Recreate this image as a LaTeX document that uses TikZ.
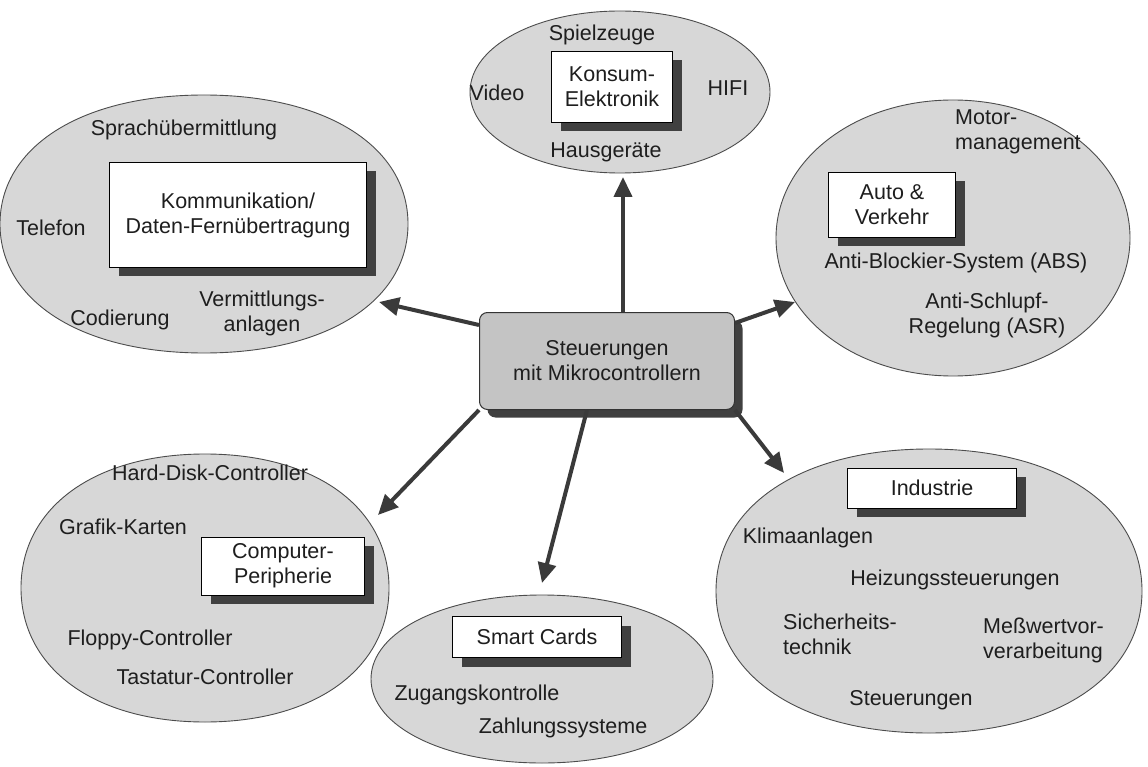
\documentclass[tikz,border=0pt]{standalone}
\usepackage{fontspec}
\setmainfont{Liberation Sans}
\usetikzlibrary{arrows.meta,shapes.geometric,shadows,calc}
\definecolor{ellfill}{HTML}{D7D7D7}
\definecolor{cenfill}{HTML}{C4C4C4}
\definecolor{shadowc}{HTML}{404040}
\definecolor{arrc}{HTML}{3A3A3A}
\definecolor{txt}{HTML}{1E1E1E}
\newcommand\lblfont{\fontsize{21.5}{25}\selectfont}
% name, cx, cy, a, b, k  (k = bezier factor; 0.5523 = true ellipse)
\newcommand\boxyell[6]{%
  \begin{scope}[shift={(#2,#3)}]
  \path[ellp] (#4,0) .. controls (#4,{#6*#5}) and ({#6*#4},#5) .. (0,#5)
    .. controls ({-#6*#4},#5) and (-#4,{#6*#5}) .. (-#4,0)
    .. controls (-#4,{-#6*#5}) and ({-#6*#4},-#5) .. (0,-#5)
    .. controls ({#6*#4},-#5) and (#4,{-#6*#5}) .. (#4,0) -- cycle;
  \coordinate (#1) at (0,0);
  \end{scope}}
\begin{document}
\begin{tikzpicture}[x=1pt,y=-1pt,
  ellp/.style={draw=black!70,line width=0.9pt,fill=ellfill},
  cbox/.style={rectangle,draw=black,line width=1pt,fill=white,inner sep=0pt,align=center,font=\lblfont,text=txt,
    drop shadow={shadow xshift=9pt,shadow yshift=-9pt,fill=shadowc,opacity=1}},
  lbl/.style={inner sep=0pt,align=center,font=\lblfont,text=txt},
  lbll/.style={inner sep=0pt,align=left,font=\lblfont,text=txt,anchor=west},
  arr/.style={draw=arrc,line width=4pt,-{Triangle[length=20pt,width=18pt]}}]
\useasboundingbox[fill=white] (0,0) rectangle (1148,767);

% areas
\boxyell{kons}{620}{92}{150}{81}{0.56}
\boxyell{komm}{204}{224}{204}{129}{0.6}
\boxyell{auto}{953}{238}{177}{138}{0.56}
\boxyell{comp}{205}{588}{184}{134}{0.6}
\boxyell{smart}{542}{679}{171}{84}{0.57}
\boxyell{ind}{929}{591}{213}{142}{0.6}

% arrow tips
\coordinate (konstip) at (623,177);
\coordinate (kommtip) at (379,302);
\coordinate (autotip) at (795,302);
\coordinate (indtip) at (784,473);
\coordinate (smarttip) at (542,583);
\coordinate (comptip) at (378,515);

% central box
\node[rectangle,rounded corners=8pt,draw=black!80,line width=1pt,fill=cenfill,
  minimum width=255pt,minimum height=97pt,inner sep=0pt,align=center,font=\lblfont,text=txt,
  drop shadow={shadow xshift=8pt,shadow yshift=-8pt,fill=shadowc,opacity=1}]
  (cen) at (607,361) {Steuerungen\\mit Mikrocontrollern};

% arrows
\draw[arr] ([xshift=16pt]cen.north) -- (konstip);
\draw[arr] ([yshift=36pt]cen.west) -- (kommtip);
\draw[arr] ([yshift=38pt]cen.east) -- (autotip);
\draw[arr] (cen.south east) -- (indtip);
\draw[arr] ([xshift=-20pt]cen.south) -- (smarttip);
\draw[arr] (cen.south west) -- (comptip);

% Konsum-Elektronik
\node[cbox,minimum width=121pt,minimum height=71pt] (kbox) at (612,87) {Konsum-\\Elektronik};
\node[lbl] (spiel) at (602,35) {Spielzeuge};
\node[lbl] (video) at (497,93) {Video};
\node[lbl] (hifi) at (728,88) {HIFI};
\node[lbl] (haus) at (606,152) {Hausgeräte};

% Kommunikation
\node[cbox,minimum width=257pt,minimum height=105pt] (kombox) at (238,215) {Kommunikation/\\Daten-Fernübertragung};
\node[lbl] (sprach) at (184,130) {Sprachübermittlung};
\node[lbl] (tel) at (51,228) {Telefon};
\node[lbl] (cod) at (120,320) {Codierung};
\node[lbl] (verm) at (262,313) {Vermittlungs-\\anlagen};

% Auto
\node[cbox,minimum width=127pt,minimum height=65pt] (abox) at (892,205) {Auto \&\\Verkehr};
\node[lbll] (motor) at (955,132) {Motor-\\management};
\node[lbl] (abs) at (956,263) {Anti-Blockier-System (ABS)};
\node[lbl] (asr) at (987,315) {Anti-Schlupf-\\Regelung (ASR)};

% Computer
\node[cbox,minimum width=163pt,minimum height=58pt] (cbx) at (283,566) {Computer-\\Peripherie};
\node[lbl] (hdd) at (210,473) {Hard-Disk-Controller};
\node[lbl] (graf) at (123,527) {Grafik-Karten};
\node[lbl] (flop) at (150,640) {Floppy-Controller};
\node[lbl] (tast) at (205,677) {Tastatur-Controller};

% Smart Cards
\node[cbox,minimum width=169pt,minimum height=41pt] (sbox) at (537,637) {Smart Cards};
\node[lbl] (zug) at (477,695) {Zugangskontrolle};
\node[lbl] (zahl) at (563,728) {Zahlungssysteme};

% Industrie
\node[cbox,minimum width=169pt,minimum height=40pt] (ibox) at (932,488) {Industrie};
\node[lbl] (klima) at (808,538) {Klimaanlagen};
\node[lbl] (heiz) at (955,580) {Heizungssteuerungen};
\node[lbll] (sich) at (783,634) {Sicherheits-\\technik};
\node[lbll] (mess) at (983,640) {Meßwertvor-\\verarbeitung};
\node[lbl] (steu) at (911,700) {Steuerungen};
\end{tikzpicture}
\end{document}
